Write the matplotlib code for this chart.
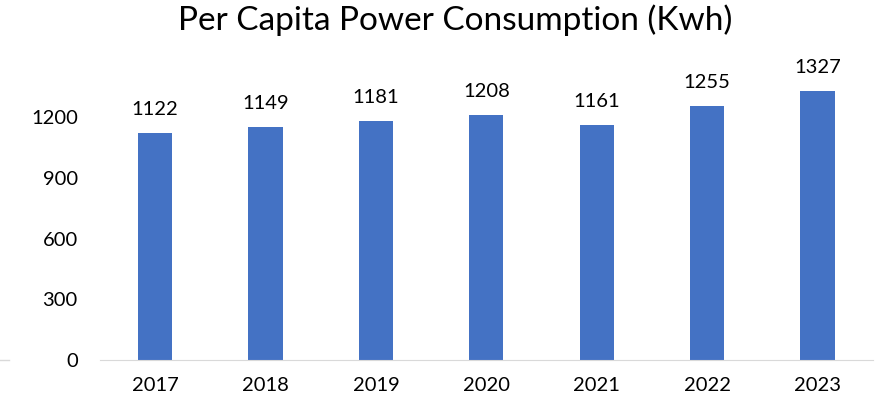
import matplotlib.pyplot as plt

years = ['2017', '2018', '2019', '2020', '2021', '2022', '2023']
consumption = [1122, 1149, 1181, 1208, 1161, 1255, 1327]
yticks = [0, 300, 600, 900, 1200]

plt.rcParams['font.family'] = ['Lato', 'DejaVu Sans']

fig = plt.figure(figsize=(8.87, 4.05), dpi=100)
ax = fig.add_axes([0.1127, 0.111, 0.8713, 0.70])

bars = ax.bar(years, consumption, width=0.31, color='#4472C4')
ax.set_xlim(-0.5, len(years) - 0.5)
ax.set_ylim(0, 1400)
ax.set_yticks(yticks)

for b, v in zip(bars, consumption):
    ax.annotate(str(v), (b.get_x() + b.get_width() / 2, v), xytext=(0, 11),
                textcoords='offset points', ha='center', va='bottom', fontsize=14.5)

for s in ['top', 'right', 'left']:
    ax.spines[s].set_visible(False)
ax.spines['bottom'].set_color('#D9D9D9')
ax.tick_params(axis='both', length=0, labelsize=14.5, colors='black')
ax.tick_params(axis='y', pad=16)
ax.tick_params(axis='x', pad=12)

fig.suptitle('Per Capita Power Consumption (Kwh)', fontsize=24, x=0.513, y=0.99)
fig.add_artist(plt.Line2D([0, 0.01], [0.111, 0.111], color='#D9D9D9', lw=1))

fig.savefig('out.png', dpi=100)
